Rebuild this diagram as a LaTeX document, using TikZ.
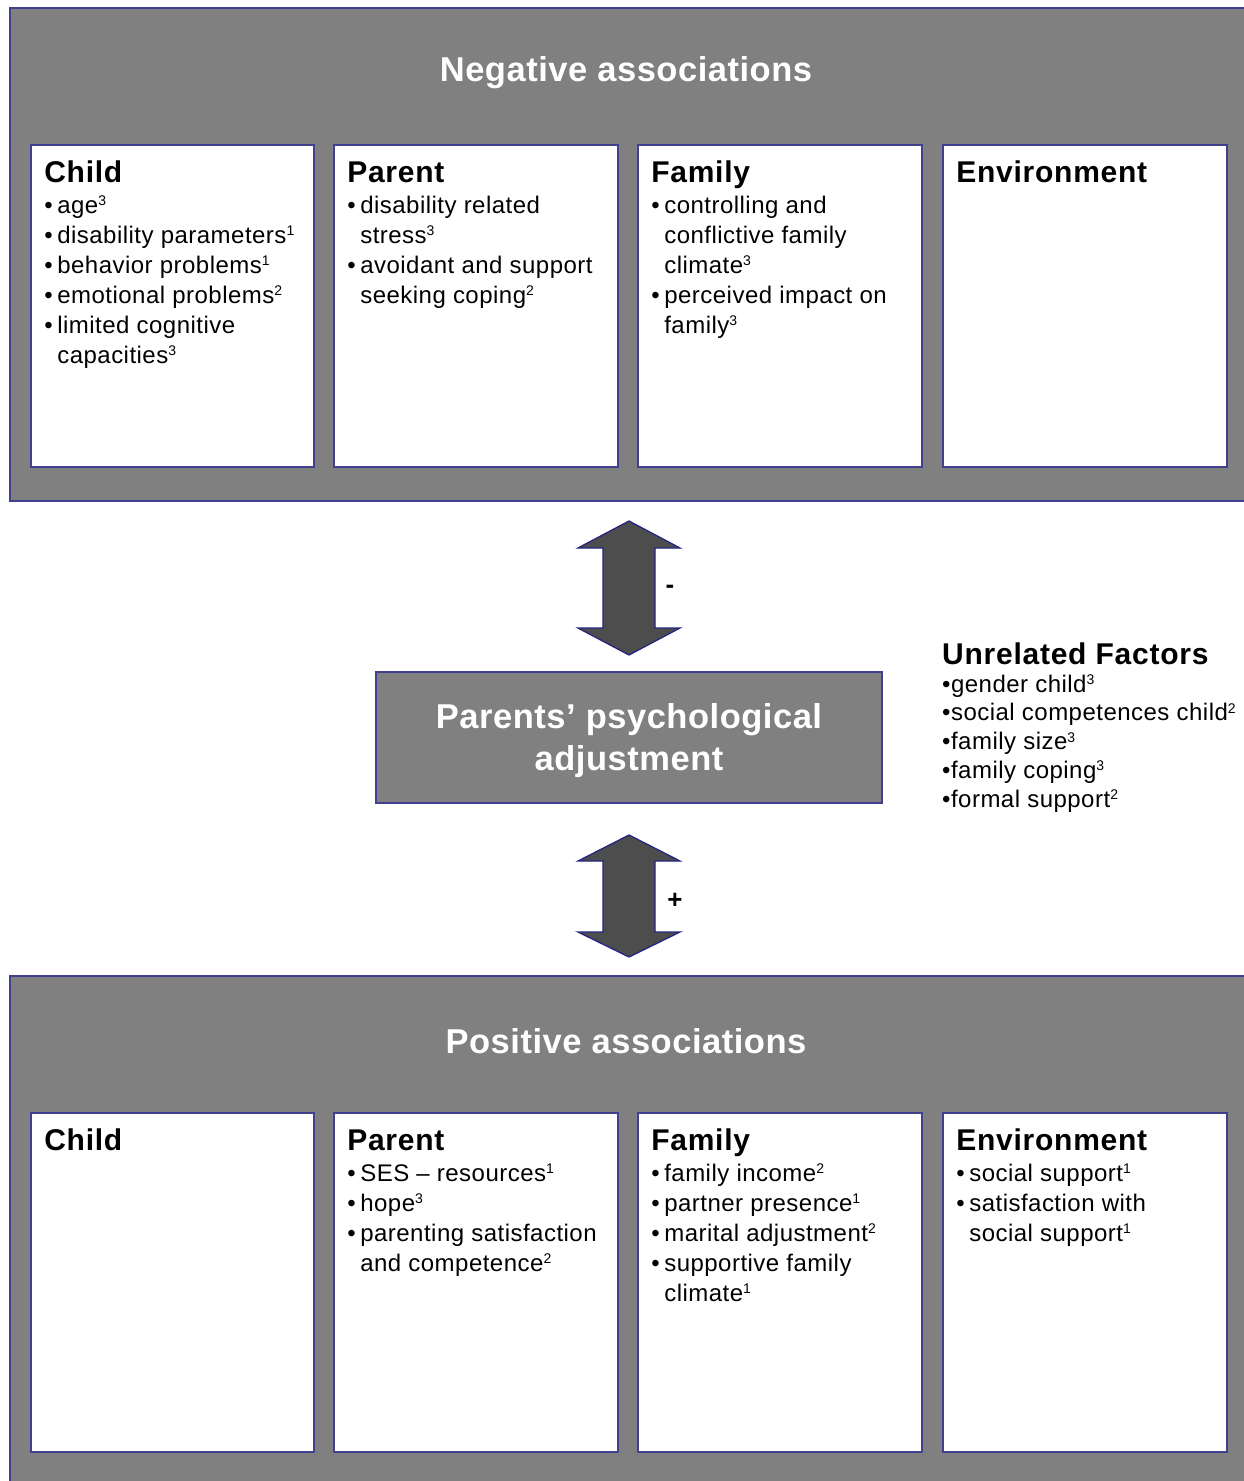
\documentclass[tikz,border=0pt]{standalone}
\usepackage{fontspec}
\setmainfont{Liberation Sans}
\usetikzlibrary{calc}
\definecolor{panelgray}{HTML}{808080}
\definecolor{edgeblue}{HTML}{40408F}
\definecolor{arrowfill}{HTML}{4D4D4D}
\definecolor{arrowedge}{HTML}{262680}
\newcommand\itemsfont{\fontsize{24}{30}\selectfont\addfontfeatures{LetterSpace=2}}
\newcommand\blt{\makebox[13pt][l]{•}}
\newcommand\ind{\hspace*{13pt}}
\newcommand\sps[1]{\raisebox{7.5pt}{\fontsize{14}{14}\selectfont #1}}
\newcommand\lst[1]{\parbox[t]{400pt}{\raggedright #1}}
\tikzset{
  panel/.style={draw=edgeblue, line width=2pt, fill=panelgray, inner sep=0pt, rectangle},
  catbox/.style={draw=edgeblue, line width=1.8pt, fill=white, inner sep=0pt, rectangle},
  boxtitle/.style={anchor=base west, inner sep=0pt, font=\fontsize{30}{33}\selectfont\bfseries\addfontfeatures{LetterSpace=2.5}},
  itemlist/.style={anchor=base west, inner sep=0pt, font=\itemsfont},
  bigtitle/.style={anchor=base, inner sep=0pt, text=white, font=\fontsize{34.5}{42}\selectfont\bfseries\addfontfeatures{LetterSpace=1.5}},
  blockarrow/.style={draw=arrowedge, line width=1.3pt, fill=arrowfill, line join=miter},
  signlabel/.style={inner sep=0pt, font=\fontsize{26}{28}\selectfont\bfseries}
}
\begin{document}
\begin{tikzpicture}[x=1pt,y=-1pt]
\fill[white] (0,0) rectangle (1243,1481);
\useasboundingbox (0,0) rectangle (1243,1481);

% panels
\node[panel, minimum width=1240pt, minimum height=493pt] (neg) at (630,254.5) {};
\node[panel, minimum width=1240pt, minimum height=514pt] (pos) at (630,1233) {};
\node[bigtitle] (negtitle) at (626,81) {Negative associations};
\node[bigtitle] (postitle) at (626,1053) {Positive associations};

% top boxes
\node[catbox, minimum width=283pt, minimum height=322pt] (nchild) at (172.5,306) {};
\node[catbox, minimum width=284pt, minimum height=322pt] (nparent) at (476,306) {};
\node[catbox, minimum width=284pt, minimum height=322pt] (nfamily) at (780,306) {};
\node[catbox, minimum width=284pt, minimum height=322pt] (nenv) at (1085,306) {};

\node[boxtitle] (nchildT) at ($(nchild.north west)+(14,38)$) {Child};
\node[itemlist] (nchildL) at ($(nchild.north west)+(14,69)$) {\lst{%
\blt age\sps{3}\\
\blt disability parameters\sps{1}\\
\blt behavior problems\sps{1}\\
\blt emotional problems\sps{2}\\
\blt limited cognitive\\
\ind capacities\sps{3}}};

\node[boxtitle] (nparentT) at ($(nparent.north west)+(14,38)$) {Parent};
\node[itemlist] (nparentL) at ($(nparent.north west)+(14,69)$) {\lst{%
\blt disability related\\
\ind stress\sps{3}\\
\blt avoidant and support\\
\ind seeking coping\sps{2}}};

\node[boxtitle] (nfamilyT) at ($(nfamily.north west)+(14,38)$) {Family};
\node[itemlist] (nfamilyL) at ($(nfamily.north west)+(14,69)$) {\lst{%
\blt controlling and\\
\ind conflictive family\\
\ind climate\sps{3}\\
\blt perceived impact on\\
\ind family\sps{3}}};

\node[boxtitle] (nenvT) at ($(nenv.north west)+(14,38)$) {Environment};

% bottom boxes
\node[catbox, minimum width=283pt, minimum height=339pt] (pchild) at (172.5,1282.5) {};
\node[catbox, minimum width=284pt, minimum height=339pt] (pparent) at (476,1282.5) {};
\node[catbox, minimum width=284pt, minimum height=339pt] (pfamily) at (780,1282.5) {};
\node[catbox, minimum width=284pt, minimum height=339pt] (penv) at (1085,1282.5) {};

\node[boxtitle] (pchildT) at ($(pchild.north west)+(14,38)$) {Child};

\node[boxtitle] (pparentT) at ($(pparent.north west)+(14,38)$) {Parent};
\node[itemlist] (pparentL) at ($(pparent.north west)+(14,69)$) {\lst{%
\blt SES – resources\sps{1}\\
\blt hope\sps{3}\\
\blt parenting satisfaction\\
\ind and competence\sps{2}}};

\node[boxtitle] (pfamilyT) at ($(pfamily.north west)+(14,38)$) {Family};
\node[itemlist] (pfamilyL) at ($(pfamily.north west)+(14,69)$) {\lst{%
\blt family income\sps{2}\\
\blt partner presence\sps{1}\\
\blt marital adjustment\sps{2}\\
\blt supportive family\\
\ind climate\sps{1}}};

\node[boxtitle] (penvT) at ($(penv.north west)+(14,38)$) {Environment};
\node[itemlist] (penvL) at ($(penv.north west)+(14,69)$) {\lst{%
\blt social support\sps{1}\\
\blt satisfaction with\\
\ind social support\sps{1}}};

% central box
\node[panel, minimum width=506pt, minimum height=131pt] (adj) at (629,737.5) {};
\node[bigtitle, anchor=center, align=center] (adjT) at (629,741) {Parents’ psychological\\adjustment};

% unrelated factors
\node[boxtitle] (unrT) at (942,664) {Unrelated Factors};
\node[itemlist, font=\fontsize{24}{28.75}\selectfont\addfontfeatures{LetterSpace=2}] (unrL) at (942,692) {\lst{%
•gender child\sps{3}\\
•social competences child\sps{2}\\
•family size\sps{3}\\
•family coping\sps{3}\\
•formal support\sps{2}}};

% block arrows
\coordinate (arrA) at (629,521);
\coordinate (arrB) at (629,835);
\draw[blockarrow] (arrA) -- ++(51,27) -- ++(-25,0) -- ++(0,80) -- ++(25,0) -- ++(-51,27)
  -- ++(-51,-27) -- ++(25,0) -- ++(0,-80) -- ++(-25,0) -- cycle;
\draw[blockarrow] (arrB) -- ++(51,26) -- ++(-25,0) -- ++(0,71) -- ++(25,0) -- ++(-51,25)
  -- ++(-51,-25) -- ++(25,0) -- ++(0,-71) -- ++(-25,0) -- cycle;
\node[signlabel] (minus) at (670,589) {-};
\node[signlabel] (plus) at (675,901) {+};
\end{tikzpicture}
\end{document}
